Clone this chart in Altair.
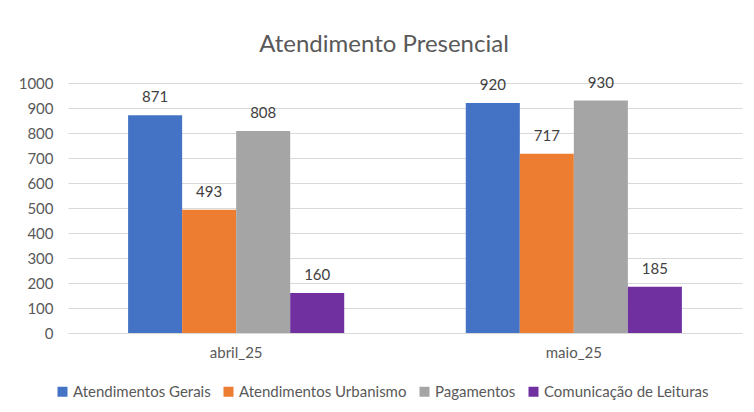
import altair as alt
import pandas as pd

months = ["abril_25", "maio_25"]
series = ["Atendimentos Gerais", "Atendimentos Urbanismo", "Pagamentos", "Comunicação de Leituras"]
gerais = [871, 920]
urbanismo = [493, 717]
pagamentos = [808, 930]
leituras = [160, 185]
colors = ["#4472C4", "#ED7D31", "#A5A5A5", "#7030A0"]
y_ticks = [0, 100, 200, 300, 400, 500, 600, 700, 800, 900, 1000]

rows = []
for i, m in enumerate(months):
    for s, vals in zip(series, [gerais, urbanismo, pagamentos, leituras]):
        rows.append({"mes": m, "serie": s, "valor": vals[i]})
df = pd.DataFrame(rows)

FONT = "Lato"
TXT = "#595959"

base = alt.Chart(df).encode(
    x=alt.X("mes:N", sort=months, title=None,
            scale=alt.Scale(paddingInner=0.36, paddingOuter=0.178),
            axis=alt.Axis(labelAngle=0, labelFontSize=15, labelColor=TXT, labelFont=FONT,
                          ticks=False, domain=False, labelPadding=12)),
    xOffset=alt.XOffset("serie:N", sort=series),
    y=alt.Y("valor:Q", title=None,
            scale=alt.Scale(domain=[0, 1000]),
            axis=alt.Axis(values=y_ticks, format="d", labelOverlap=False, labelFontSize=15,
                          labelColor=TXT, labelFont=FONT, ticks=False, domain=False,
                          labelPadding=15, gridColor="#D9D9D9", gridWidth=1)),
)

bars = base.mark_bar().encode(
    color=alt.Color("serie:N", sort=series, title=None,
                    scale=alt.Scale(domain=series, range=colors),
                    legend=alt.Legend(orient="none", direction="horizontal", legendX=-13, legendY=301,
                                      symbolType="square", symbolSize=100, symbolStrokeWidth=0,
                                      labelFontSize=15, labelColor=TXT, labelFont=FONT, labelLimit=0,
                                      labelOffset=3, columnPadding=10)),
)

labels = base.mark_text(baseline="middle", dy=-18, fontSize=15, font=FONT, color="#404040").encode(
    text=alt.Text("valor:Q"),
)

chart = (bars + labels).properties(
    width=674, height=250,
    title=alt.TitleParams("Atendimento Presencial", fontSize=24, font=FONT, fontWeight="normal",
                          color=TXT, anchor="middle", dx=-21, offset=19),
    autosize=alt.AutoSizeParams(type="none"),
    padding={"left": 60, "top": 75, "right": 4, "bottom": 71},
    background="white",
).configure_view(stroke=None)

chart.save("out.html", embed_options={"renderer": "svg", "actions": False})
